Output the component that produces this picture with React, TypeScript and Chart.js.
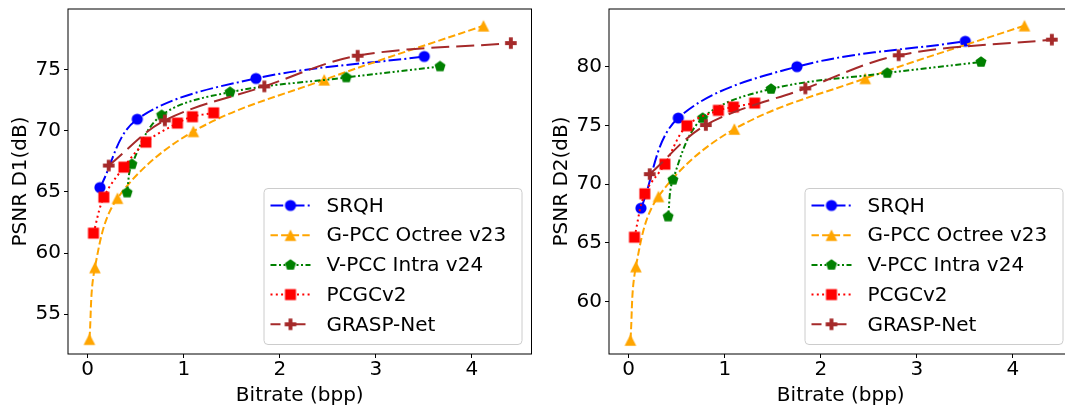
import React, { useEffect, useRef } from 'react';
import { Chart, registerables } from 'chart.js';

Chart.register(...registerables);

// ---------- data ----------
const SERIES_NAMES = ['SRQH', 'G-PCC Octree v23', 'V-PCC Intra v24', 'PCGCv2', 'GRASP-Net'];

const SRQH_X = [0.128, 0.516, 1.752, 3.504];
const GPCC_X = [0.018, 0.075, 0.31, 1.1, 2.462, 4.12];
const VPCC_X = [0.41, 0.46, 0.77, 1.482, 2.692, 3.668];
const PCGC_X = [0.06, 0.168, 0.377, 0.606, 0.934, 1.09, 1.311];
const GRASP_X = [0.219, 0.803, 1.839, 2.81, 4.405];

const SRQH_D1 = [65.36, 70.95, 74.28, 76.08];
const GPCC_D1 = [52.96, 58.82, 64.49, 69.95, 74.17, 78.59];
const VPCC_D1 = [64.95, 67.27, 71.28, 73.16, 74.36, 75.26];
const PCGC_D1 = [61.63, 64.57, 67.03, 69.07, 70.63, 71.15, 71.47];
const GRASP_D1 = [67.16, 70.85, 73.63, 76.14, 77.17];

const SRQH_D2 = [67.95, 75.63, 80.0, 82.16];
const GPCC_D2 = [56.73, 62.98, 68.95, 74.69, 79.0, 83.49];
const VPCC_D2 = [67.24, 70.37, 75.63, 78.1, 79.46, 80.4];
const PCGC_D2 = [65.48, 69.18, 71.7, 74.97, 76.28, 76.56, 76.9];
const GRASP_D2 = [70.85, 75.03, 78.15, 80.97, 82.3];

const X_SERIES = [SRQH_X, GPCC_X, VPCC_X, PCGC_X, GRASP_X];
const D1_SERIES = [SRQH_D1, GPCC_D1, VPCC_D1, PCGC_D1, GRASP_D1];
const D2_SERIES = [SRQH_D2, GPCC_D2, VPCC_D2, PCGC_D2, GRASP_D2];

const X_TICKS = [0, 1, 2, 3, 4];
const D1_TICKS = [55, 60, 65, 70, 75];
const D2_TICKS = [60, 65, 70, 75, 80];

// ---------- styles ----------
const COLORS = ['#0000ff', '#ffa500', '#008000', '#ff0000', '#a52a2a'];
const DASHES = [
  [12.8, 3.2, 2, 3.2],
  [7.4, 3.2],
  [6, 2.5, 2, 2.5, 2, 2.5],
  [2, 3.3],
  [18, 7],
];
const MARKERS = ['circle', 'triangle', 'pentagon', 'square', 'plus'];
const FONT = 'DejaVu Sans';

function makeMarker(kind: string, color: string): HTMLCanvasElement {
  const c = document.createElement('canvas');
  c.width = 16;
  c.height = 16;
  const g = c.getContext('2d') as CanvasRenderingContext2D;
  g.fillStyle = color;
  g.beginPath();
  const cx = 8, cy = 8;
  if (kind === 'circle') {
    g.arc(cx, cy, 5.6, 0, Math.PI * 2);
  } else if (kind === 'triangle') {
    const h = 5.8;
    g.moveTo(cx, cy - h);
    g.lineTo(cx - h, cy + h);
    g.lineTo(cx + h, cy + h);
    g.closePath();
  } else if (kind === 'square') {
    g.rect(cx - 5.5, cy - 5.5, 11, 11);
  } else if (kind === 'pentagon') {
    const r = 5.8;
    for (let i = 0; i < 5; i++) {
      const a = -Math.PI / 2 + (i * 2 * Math.PI) / 5;
      const px = cx + r * Math.cos(a), py = cy + r * Math.sin(a);
      if (i === 0) g.moveTo(px, py); else g.lineTo(px, py);
    }
    g.closePath();
  } else {
    const a = 5.8, b = 1.95;
    const pts = [[-b, -a], [b, -a], [b, -b], [a, -b], [a, b], [b, b], [b, a], [-b, a], [-b, b], [-a, b], [-a, -b], [-b, -b]];
    pts.forEach((p, i) => (i === 0 ? g.moveTo(cx + p[0], cy + p[1]) : g.lineTo(cx + p[0], cy + p[1])));
    g.closePath();
  }
  g.fill();
  return c;
}

const frameLegendPlugin = {
  id: 'frameLegend',
  afterDraw(chart: any) {
    const { ctx, chartArea: a } = chart;
    ctx.save();
    ctx.setLineDash([]);
    ctx.strokeStyle = '#000';
    ctx.lineWidth = 1;
    ctx.strokeRect(a.left, a.top, a.right - a.left, a.bottom - a.top);

    const w = 258, h = 156;
    const x1 = a.right - 10 - w;
    const y1 = a.bottom - 10 - h;
    ctx.beginPath();
    ctx.roundRect(x1 + 0.5, y1 + 0.5, w, h, 4);
    ctx.fillStyle = 'rgba(255,255,255,0.8)';
    ctx.fill();
    ctx.strokeStyle = '#cccccc';
    ctx.stroke();

    chart.data.datasets.forEach((ds: any, i: number) => {
      const cy = y1 + 17.5 + i * 29.7;
      const lx0 = x1 + 7;
      const lx1 = lx0 + 40;
      ctx.setLineDash(ds.borderDash);
      ctx.lineDashOffset = i === 4 ? 8 : 0;
      ctx.strokeStyle = ds.borderColor;
      ctx.lineWidth = 2;
      ctx.beginPath();
      ctx.moveTo(lx0, cy);
      ctx.lineTo(lx1, cy);
      ctx.stroke();
      ctx.setLineDash([]);
      ctx.lineDashOffset = 0;
      ctx.drawImage(ds.pointStyle, (lx0 + lx1) / 2 - 8, cy - 8);
      ctx.fillStyle = '#000';
      ctx.font = `20px "${FONT}"`;
      ctx.textBaseline = 'middle';
      ctx.textAlign = 'left';
      ctx.fillText(ds.label, lx1 + 16, cy + 1);
    });
    ctx.restore();
  },
};

type ChartProps = {
  left: number;
  ySeries: number[][];
  yTicks: number[];
  yMin: number;
  yMax: number;
  yTitle: string;
};

function PsnrChart({ left, ySeries, yTicks, yMin, yMax, yTitle }: ChartProps) {
  const ref = useRef<HTMLCanvasElement | null>(null);

  useEffect(() => {
    const canvas = ref.current;
    if (!canvas) return;
    const datasets = SERIES_NAMES.map((name, i) => {
      const img = makeMarker(MARKERS[i], COLORS[i]);
      return {
        label: name,
        data: X_SERIES[i].map((x, j) => ({ x, y: ySeries[i][j] })),
        borderColor: COLORS[i],
        backgroundColor: COLORS[i],
        borderWidth: 2,
        borderDash: DASHES[i],
        pointStyle: img,
        pointRadius: 6,
        pointHoverRadius: 6,
        tension: 0.35,
        fill: false,
        order: 5 - i,
      };
    });

    const font = { family: FONT, size: 20, lineHeight: 1.2 };

    const chart = new Chart(canvas, {
      type: 'line',
      data: { datasets } as any,
      options: {
        responsive: false,
        animation: false,
        events: [],
        layout: { padding: { left: 0, right: 8.5, top: 9, bottom: 0 } },
        plugins: { legend: { display: false }, tooltip: { enabled: false } },
        scales: {
          x: {
            type: 'linear',
            min: -0.205,
            max: 4.62,
            grid: { display: true, drawOnChartArea: false, drawTicks: true, tickLength: 4, color: '#000', lineWidth: 1 },
            border: { display: false },
            ticks: { color: '#000', font, padding: 0, maxRotation: 0 },
            title: { display: true, text: 'Bitrate (bpp)', color: '#000', font, padding: { top: 0, bottom: 0 } },
            afterBuildTicks: (scale: any) => {
              scale.ticks = X_TICKS.map((v) => ({ value: v }));
            },
            afterFit: (scale: any) => {
              scale.height = 54;
              scale.paddingLeft = 0;
              scale.paddingRight = 0;
            },
          },
          y: {
            type: 'linear',
            min: yMin,
            max: yMax,
            grid: { display: true, drawOnChartArea: false, drawTicks: true, tickLength: 4, color: '#000', lineWidth: 1 },
            border: { display: false },
            ticks: { color: '#000', font, padding: 3 },
            title: { display: true, text: yTitle, color: '#000', font, padding: { top: 9, bottom: 0 } },
            afterBuildTicks: (scale: any) => {
              scale.ticks = yTicks.map((v) => ({ value: v }));
            },
            afterFit: (scale: any) => {
              scale.width = 68;
              scale.paddingTop = 0;
              scale.paddingBottom = 0;
            },
          },
        },
      } as any,
      plugins: [frameLegendPlugin],
    });
    return () => chart.destroy();
  }, []);

  return (
    <canvas
      ref={ref}
      width={540}
      height={408}
      style={{ position: 'absolute', left: `${left}px`, top: 0, width: '540px', height: '408px' }}
    />
  );
}

export default function App() {
  return (
    <div
      style={{
        position: 'absolute',
        left: 0,
        top: 0,
        width: '1065px',
        height: '408px',
        overflow: 'hidden',
        background: '#fff',
      }}
    >
      <PsnrChart left={0} ySeries={D1_SERIES} yTicks={D1_TICKS} yMin={51.75} yMax={79.96} yTitle="PSNR D1(dB)" />
      <PsnrChart left={541} ySeries={D2_SERIES} yTicks={D2_TICKS} yMin={55.54} yMax={84.91} yTitle="PSNR D2(dB)" />
    </div>
  );
}
